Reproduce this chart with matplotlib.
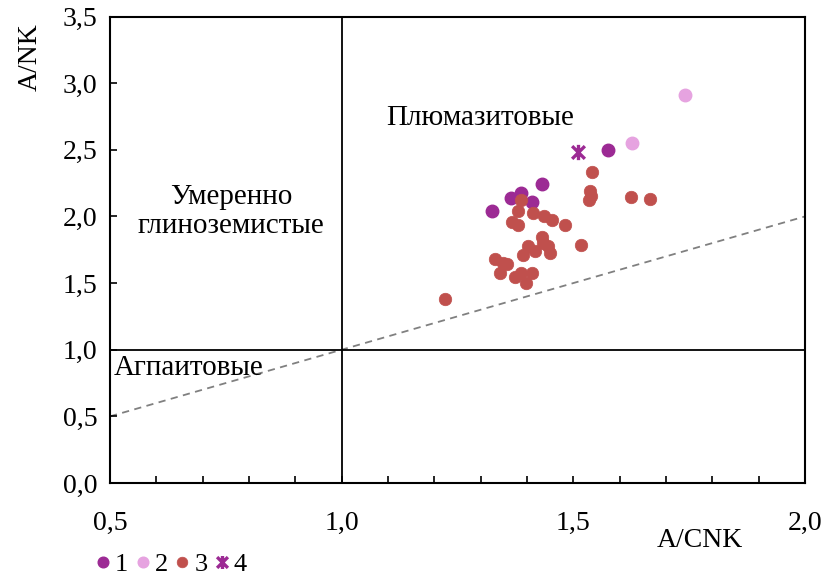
import numpy as np
import matplotlib.pyplot as plt
from matplotlib.path import Path
from matplotlib.ticker import MultipleLocator, FuncFormatter

plt.rcParams['font.family'] = ['Liberation Serif', 'DejaVu Serif']

# group 1
x1 = [1.325, 1.366, 1.386, 1.411, 1.433, 1.575]
y1 = [2.04, 2.14, 2.176, 2.109, 2.24, 2.50]
# group 2
x2 = [1.626, 1.742]
y2 = [2.55, 2.91]
# group 3
x3 = [1.222, 1.541, 1.537, 1.539, 1.533, 1.624, 1.665, 1.388, 1.381, 1.413,
      1.436, 1.453, 1.483, 1.367, 1.381, 1.516, 1.433, 1.402, 1.434, 1.445,
      1.418, 1.449, 1.391, 1.331, 1.348, 1.357, 1.341, 1.375, 1.388, 1.411,
      1.398]
y3 = [1.377, 2.336, 2.189, 2.157, 2.121, 2.149, 2.129, 2.127, 2.039, 2.026,
      2.001, 1.971, 1.937, 1.959, 1.939, 1.789, 1.842, 1.779, 1.801, 1.777,
      1.741, 1.722, 1.709, 1.679, 1.651, 1.642, 1.577, 1.542, 1.572, 1.577,
      1.502]
# group 4
x4 = [1.51]
y4 = [2.48]

labels = ['1', '2', '3', '4']
colors = ['#9C2A94', '#E6A3E0', '#C0504D', '#9C2A94']

# star marker: an X with a vertical bar
star = Path([(-1, -1), (1, 1), (-1, 1), (1, -1), (0, -1.2), (0, 1.2)],
            [Path.MOVETO, Path.LINETO, Path.MOVETO, Path.LINETO, Path.MOVETO, Path.LINETO])

fig = plt.figure(figsize=(8.27, 5.75), dpi=100)
ax = fig.add_axes([0.133, 0.16, 0.8404, 0.8113])

ax.set_xlim(0.5, 2.0)
ax.set_ylim(0, 3.5)

# field boundaries
ax.plot([0.5, 2.0], [0.5, 2.0], '--', color='#808080', lw=1.3, dashes=(4, 3), zorder=1)
ax.axvline(1.0, color='black', lw=1.3, zorder=1)
ax.axhline(1.0, color='black', lw=1.3, zorder=1)

ax.plot(x1, y1, 'o', ms=9, color=colors[0], mec=colors[0], label=labels[0], zorder=3)
ax.plot(x2, y2, 'o', ms=9, color=colors[1], mec=colors[1], label=labels[1], zorder=3)
ax.plot(x3, y3, 'o', ms=9, color=colors[2], mec=colors[2], mew=0.5, label=labels[2], zorder=3)
ax.plot(x4, y4, ls='none', marker=star, ms=11, mfc='none', mec=colors[3], mew=2.4,
        label=labels[3], zorder=3)

ax.text(1.298, 2.74, 'Плюмазитовые', fontsize=21, ha='center', va='center')
ax.text(0.761, 2.04, 'Умеренно\nглиноземистые', fontsize=21, ha='center', va='center',
        multialignment='center', linespacing=1.15)
ax.text(0.508, 0.862, 'Агпаитовые', fontsize=21, ha='left', va='center')

fmt = FuncFormatter(lambda v, p: f'{v:.1f}'.replace('.', ','))
ax.xaxis.set_major_locator(MultipleLocator(0.5))
ax.xaxis.set_minor_locator(MultipleLocator(0.1))
ax.yaxis.set_major_locator(MultipleLocator(0.5))
ax.xaxis.set_major_formatter(fmt)
ax.yaxis.set_major_formatter(fmt)
ax.tick_params(axis='x', which='both', direction='in', length=5, width=1.2, pad=20, labelsize=20)
ax.tick_params(axis='y', which='both', direction='in', length=5, width=1.2, pad=9, labelsize=20)
for s in ax.spines.values():
    s.set_linewidth(1.5)

fig.text(0.846, 0.06, 'A/CNK', fontsize=20, ha='center', va='center')
fig.text(0.036, 0.9, 'A/NK', fontsize=20, ha='center', va='center', rotation=90)

fig.legend(loc='lower left', bbox_to_anchor=(0.104, -0.02), ncol=4, frameon=False,
           fontsize=19, handlelength=0.5, handletextpad=0.2, columnspacing=0.3,
           markerscale=0.85, borderaxespad=0)

fig.savefig('out.png', dpi=100)
